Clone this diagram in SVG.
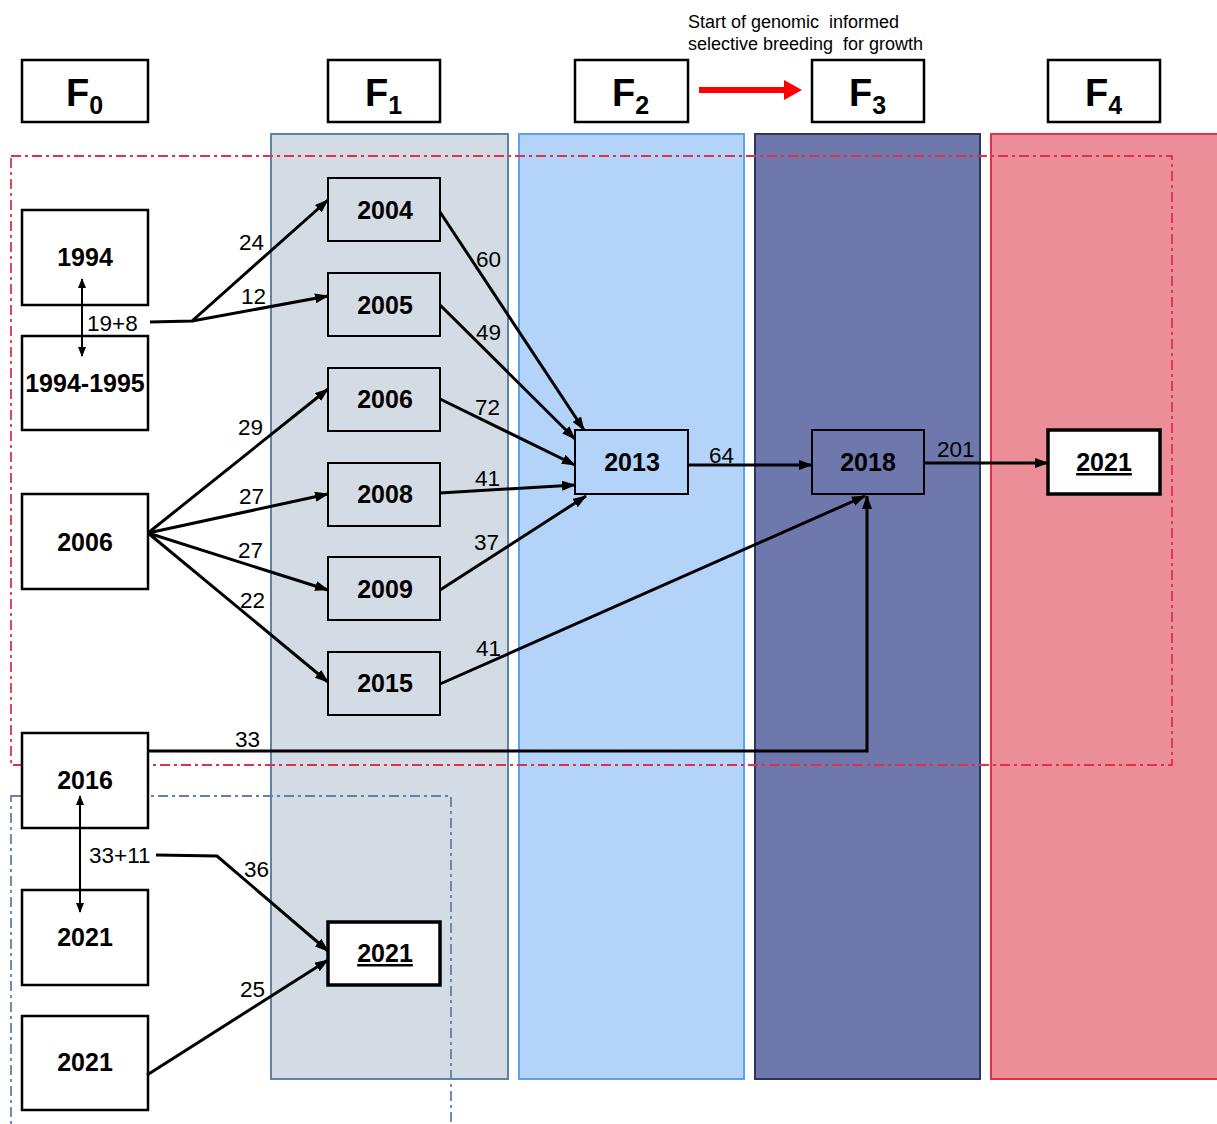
<svg xmlns="http://www.w3.org/2000/svg" width="1217" height="1124" viewBox="0 0 1217 1124">
<style>
.hdr{fill:#fff;stroke:#000;stroke-width:2.5}
.ht{font-family:"Liberation Sans",Arial,sans-serif;font-weight:bold;font-size:38px;fill:#000}
.hs{font-size:25px}
.nd{fill:#fff;stroke:#000;stroke-width:2.5}
.ndc{fill:none;stroke:#000;stroke-width:2}
.ndt{fill:#fff;stroke:#000;stroke-width:3.5}
.nt{font-family:"Liberation Sans",Arial,sans-serif;font-weight:bold;font-size:25px;fill:#000;text-anchor:middle}
.el{font-family:"Liberation Sans",Arial,sans-serif;font-size:22.5px;fill:#000}
.ed{fill:none;stroke:#000;stroke-width:3}
.dbl{fill:none;stroke:#000;stroke-width:2}
.note{font-family:"Liberation Sans",Arial,sans-serif;font-size:18px;fill:#000}
</style>
<defs>
<marker id="ah" markerUnits="userSpaceOnUse" markerWidth="14" markerHeight="10" refX="13" refY="5" orient="auto">
<path d="M0,0 L14,5 L0,10 Z" fill="#000"/>
</marker>
<marker id="ahs" markerUnits="userSpaceOnUse" markerWidth="10" markerHeight="8" refX="9" refY="4" orient="auto-start-reverse">
<path d="M0,0 L10,4 L0,8 Z" fill="#000"/>
</marker>
<marker id="ahr" markerUnits="userSpaceOnUse" markerWidth="18" markerHeight="20" refX="2" refY="10" orient="auto">
<path d="M0,0 L18,10 L0,20 Z" fill="#f00"/>
</marker>
</defs>

<g id="columns">
<rect x="271" y="134" width="237" height="945" fill="#d3dbe5" stroke="#6182a8" stroke-width="2"/>
<rect x="519" y="134" width="225" height="945" fill="#b3d4f8" stroke="#5ba2ea" stroke-width="2"/>
<rect x="755" y="134" width="225" height="945" fill="#6e78ad" stroke="#2e3560" stroke-width="2"/>
<rect x="991" y="134" width="240" height="945" fill="#eb8e98" stroke="#e0304a" stroke-width="2"/>
</g>

<g id="groups">
<rect x="11" y="156" width="1161" height="609" fill="none" stroke="#e0304a" stroke-width="1.8" stroke-dasharray="10,4,3,4"/>
<rect x="11" y="796" width="440" height="340" fill="none" stroke="#6182a8" stroke-width="1.8" stroke-dasharray="10,4,3,4"/>
</g>

<g id="headers">
<g id="hF0"><rect class="hdr" x="22" y="60" width="126" height="62"/><text class="ht" x="66" y="106">F<tspan class="hs" dy="8">0</tspan></text></g>
<g id="hF1"><rect class="hdr" x="328" y="60" width="112" height="62"/><text class="ht" x="365" y="106">F<tspan class="hs" dy="8">1</tspan></text></g>
<g id="hF2"><rect class="hdr" x="575" y="60" width="113" height="62"/><text class="ht" x="612" y="106">F<tspan class="hs" dy="8">2</tspan></text></g>
<g id="hF3"><rect class="hdr" x="812" y="60" width="112" height="62"/><text class="ht" x="849" y="106">F<tspan class="hs" dy="8">3</tspan></text></g>
<g id="hF4"><rect class="hdr" x="1048" y="60" width="112" height="62"/><text class="ht" x="1085" y="106">F<tspan class="hs" dy="8">4</tspan></text></g>
</g>

<g id="note">
<text class="note" x="688" y="28" xml:space="preserve">Start of genomic  informed</text>
<text class="note" x="688" y="50" xml:space="preserve">selective breeding  for growth</text>
<line x1="699" y1="90" x2="786" y2="90" stroke="#f00" stroke-width="6" marker-end="url(#ahr)"/>
</g>

<g id="nodes">
<g id="n1994"><rect class="nd" x="22" y="210" width="126" height="95"/><text class="nt" x="85" y="266">1994</text></g>
<g id="n1994-1995"><rect class="nd" x="22" y="336" width="126" height="94"/><text class="nt" x="85" y="392">1994-1995</text></g>
<g id="n2006a"><rect class="nd" x="22" y="494" width="126" height="95"/><text class="nt" x="85" y="551">2006</text></g>
<g id="n2016"><rect class="nd" x="22" y="733" width="126" height="95"/><text class="nt" x="85" y="789">2016</text></g>
<g id="n2021a"><rect class="nd" x="22" y="890" width="126" height="95"/><text class="nt" x="85" y="946">2021</text></g>
<g id="n2021b"><rect class="nd" x="22" y="1016" width="126" height="94"/><text class="nt" x="85" y="1071">2021</text></g>

<g id="n2004"><rect class="ndc" x="328" y="178" width="112" height="63"/><text class="nt" x="385" y="219">2004</text></g>
<g id="n2005"><rect class="ndc" x="328" y="273" width="112" height="63"/><text class="nt" x="385" y="314">2005</text></g>
<g id="n2006b"><rect class="ndc" x="328" y="368" width="112" height="63"/><text class="nt" x="385" y="408">2006</text></g>
<g id="n2008"><rect class="ndc" x="328" y="463" width="112" height="63"/><text class="nt" x="385" y="503">2008</text></g>
<g id="n2009"><rect class="ndc" x="328" y="557" width="112" height="63"/><text class="nt" x="385" y="598">2009</text></g>
<g id="n2015"><rect class="ndc" x="328" y="652" width="112" height="63"/><text class="nt" x="385" y="692">2015</text></g>
<g id="n2021c"><rect class="ndt" x="328" y="922" width="112" height="63"/><text class="nt" x="385" y="962" text-decoration="underline">2021</text></g>

<g id="n2013"><rect class="ndc" x="575" y="430" width="113" height="64"/><text class="nt" x="632" y="471">2013</text></g>
<g id="n2018"><rect class="ndc" x="812" y="430" width="112" height="64"/><text class="nt" x="868" y="471">2018</text></g>
<g id="n2021d"><rect class="ndt" x="1048" y="430" width="112" height="64"/><text class="nt" x="1104" y="471" text-decoration="underline">2021</text></g>
</g>

<g id="connectors">
<line class="dbl" x1="82" y1="279" x2="82" y2="356" marker-start="url(#ahs)" marker-end="url(#ahs)"/>
<path class="ed" d="M150,322 L192,321 L328,200" marker-end="url(#ah)"/>
<path class="ed" d="M192,321 L328,296" marker-end="url(#ah)"/>
<line class="ed" x1="148" y1="533" x2="328" y2="389" marker-end="url(#ah)"/>
<line class="ed" x1="148" y1="533" x2="328" y2="494" marker-end="url(#ah)"/>
<line class="ed" x1="148" y1="533" x2="328" y2="590" marker-end="url(#ah)"/>
<line class="ed" x1="148" y1="533" x2="328" y2="682" marker-end="url(#ah)"/>
<line class="ed" x1="440" y1="212" x2="584" y2="430" marker-end="url(#ah)"/>
<line class="ed" x1="440" y1="305" x2="575" y2="439" marker-end="url(#ah)"/>
<line class="ed" x1="440" y1="399" x2="575" y2="465" marker-end="url(#ah)"/>
<line class="ed" x1="440" y1="493" x2="575" y2="485" marker-end="url(#ah)"/>
<line class="ed" x1="440" y1="590" x2="586" y2="496" marker-end="url(#ah)"/>
<line class="ed" x1="440" y1="684" x2="865" y2="496" marker-end="url(#ah)"/>
<line class="ed" x1="688" y1="465" x2="812" y2="465" marker-end="url(#ah)"/>
<line class="ed" x1="924" y1="463" x2="1048" y2="463" marker-end="url(#ah)"/>
<path class="ed" d="M147,751 L867,751 L867,496" marker-end="url(#ah)"/>
<line class="dbl" x1="80" y1="796" x2="80" y2="912" marker-start="url(#ahs)" marker-end="url(#ahs)"/>
<path class="ed" d="M156,855 L217,856 L328,951" marker-end="url(#ah)"/>
<line class="ed" x1="147" y1="1075" x2="328" y2="960" marker-end="url(#ah)"/>

<text class="el" x="239" y="250">24</text>
<text class="el" x="241" y="304">12</text>
<text class="el" x="87" y="331">19+8</text>
<text class="el" x="238" y="435">29</text>
<text class="el" x="239" y="504">27</text>
<text class="el" x="238" y="558">27</text>
<text class="el" x="240" y="608">22</text>
<text class="el" x="476" y="267">60</text>
<text class="el" x="476" y="340">49</text>
<text class="el" x="475" y="415">72</text>
<text class="el" x="475" y="486">41</text>
<text class="el" x="474" y="550">37</text>
<text class="el" x="476" y="656">41</text>
<text class="el" x="709" y="463">64</text>
<text class="el" x="937" y="457">201</text>
<text class="el" x="235" y="747">33</text>
<text class="el" x="89" y="863">33+11</text>
<text class="el" x="244" y="877">36</text>
<text class="el" x="240" y="997">25</text>
</g>
</svg>
